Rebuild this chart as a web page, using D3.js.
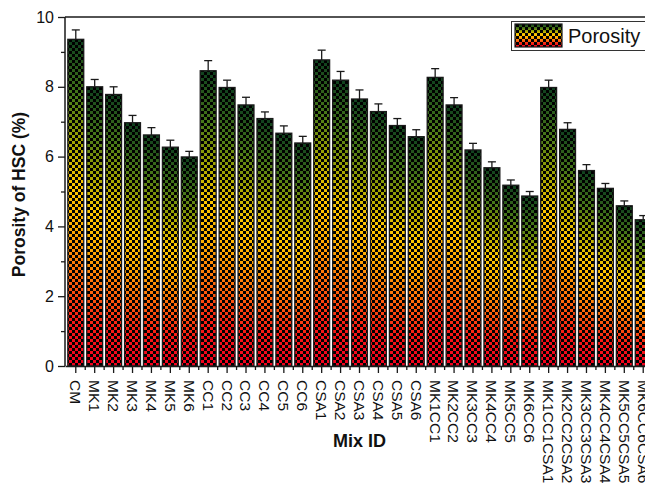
<!DOCTYPE html>
<html>
<head>
<meta charset="utf-8">
<script src="https://cdn.jsdelivr.net/npm/d3@7"></script>
<style>
  html, body { margin: 0; padding: 0; background: #fff; }
  svg { display: block; font-family: "Liberation Sans", Arial, sans-serif; }
</style>
</head>
<body>
<svg id="chart" width="645" height="492"></svg>
<script>
// Mix designs
const categories = [
  "CM",
  "MK1", "MK2", "MK3", "MK4", "MK5", "MK6",
  "CC1", "CC2", "CC3", "CC4", "CC5", "CC6",
  "CSA1", "CSA2", "CSA3", "CSA4", "CSA5", "CSA6",
  "MK1CC1", "MK2CC2", "MK3CC3", "MK4CC4", "MK5CC5", "MK6CC6",
  "MK1CC1CSA1", "MK2CC2CSA2", "MK3CC3CSA3", "MK4CC4CSA4", "MK5CC5CSA5", "MK6CC6CSA6"
];
// Porosity (%) per mix
const porosity = [
  9.36,
  8.0, 7.78, 6.97, 6.62, 6.27, 5.99,
  8.46, 7.98, 7.48, 7.09, 6.67, 6.39,
  8.77, 8.19, 7.65, 7.29, 6.89, 6.57,
  8.27, 7.48, 6.19, 5.68, 5.18, 4.87,
  7.98, 6.78, 5.6, 5.09, 4.59, 4.19
];
// Standard deviation (%) per mix
const errors = [
  0.27,
  0.21, 0.22, 0.21, 0.21, 0.2, 0.16,
  0.29, 0.21, 0.22, 0.19, 0.21, 0.19,
  0.28, 0.25, 0.26, 0.22, 0.2, 0.2,
  0.25, 0.21, 0.19, 0.17, 0.15, 0.13,
  0.21, 0.19, 0.17, 0.14, 0.14, 0.12
];
const yTicks = [0, 2, 4, 6, 8, 10];
const yMinorTicks = [1, 3, 5, 7, 9];
const legendLabel = "Porosity";

const svg = d3.select("#chart");
const plotLeft = 65, plotRight = 654, plotTop = 17, plotBottom = 366;

const x = d3.scaleBand().domain(categories).range([plotLeft, plotRight])
  .paddingInner(0.16).paddingOuter(0.15);
const y = d3.scaleLinear().domain([0, 10]).range([plotBottom, plotTop]);

const defs = svg.append("defs");

// vertical colour ramp inside each bar: red at the base to dark green at the top
const grad = defs.append("linearGradient").attr("id", "ramp")
  .attr("x1", 0).attr("y1", 1).attr("x2", 0).attr("y2", 0);
[
  [0.00, "#f0001e"], [0.14, "#f81a14"], [0.28, "#ff6a0a"], [0.42, "#ffae00"],
  [0.55, "#ffc800"], [0.68, "#a8a800"], [0.82, "#4a7a18"], [1.00, "#0e3f1e"]
].forEach(([o, c]) => grad.append("stop").attr("offset", o).attr("stop-color", c));

// checkerboard overlay
const cell = 3;
const checker = defs.append("pattern").attr("id", "checker")
  .attr("patternUnits", "userSpaceOnUse")
  .attr("width", cell * 2).attr("height", cell * 2);
checker.append("rect").attr("x", 0).attr("y", 0).attr("width", cell).attr("height", cell).attr("fill", "#000");
checker.append("rect").attr("x", cell).attr("y", cell).attr("width", cell).attr("height", cell).attr("fill", "#000");

// bars
const bars = svg.append("g");
bars.selectAll("rect.fill").data(categories).join("rect")
  .attr("class", "fill")
  .attr("x", d => x(d)).attr("width", x.bandwidth())
  .attr("y", (d, i) => y(porosity[i])).attr("height", (d, i) => y(0) - y(porosity[i]))
  .attr("fill", "url(#ramp)");
bars.selectAll("rect.check").data(categories).join("rect")
  .attr("class", "check")
  .attr("x", d => x(d)).attr("width", x.bandwidth())
  .attr("y", (d, i) => y(porosity[i])).attr("height", (d, i) => y(0) - y(porosity[i]))
  .attr("fill", "url(#checker)")
  .attr("stroke", "#1a1a1a").attr("stroke-width", 1.3);

// error bars (upper whisker)
const eb = svg.append("g").attr("stroke", "#1a1a1a").attr("stroke-width", 1.3);
categories.forEach((c, i) => {
  const cx = x(c) + x.bandwidth() / 2;
  eb.append("line").attr("x1", cx).attr("x2", cx)
    .attr("y1", y(porosity[i])).attr("y2", y(porosity[i] + errors[i]));
  eb.append("line").attr("x1", cx - 4).attr("x2", cx + 4)
    .attr("y1", y(porosity[i] + errors[i])).attr("y2", y(porosity[i] + errors[i]));
});

// frame: top and right borders
svg.append("line").attr("x1", plotLeft).attr("x2", plotRight).attr("y1", plotTop).attr("y2", plotTop)
  .attr("stroke", "#1a1a1a").attr("stroke-width", 1.5);
svg.append("line").attr("x1", plotRight).attr("x2", plotRight).attr("y1", plotTop).attr("y2", plotBottom)
  .attr("stroke", "#1a1a1a").attr("stroke-width", 1.5);

// y axis
const yAxis = svg.append("g").attr("transform", `translate(${plotLeft},0)`)
  .call(d3.axisLeft(y).tickValues(yTicks).tickSize(7).tickPadding(4).tickFormat(d3.format("d")));
yAxis.select(".domain").attr("stroke", "#1a1a1a").attr("stroke-width", 1.5)
  .attr("d", `M0,${plotBottom}V${plotTop}`);
yAxis.selectAll(".tick line").attr("stroke", "#1a1a1a").attr("stroke-width", 1.3);
yAxis.selectAll(".tick text").attr("font-size", 16).attr("fill", "#111")
  .attr("font-family", "Liberation Sans, Arial, sans-serif");
svg.append("g").attr("transform", `translate(${plotLeft},0)`)
  .call(d3.axisLeft(y).tickValues(yMinorTicks).tickSize(4).tickFormat(""))
  .call(g => g.select(".domain").remove())
  .selectAll(".tick line").attr("stroke", "#1a1a1a").attr("stroke-width", 1.3);

// x axis
const xAxis = svg.append("g").attr("transform", `translate(0,${plotBottom})`)
  .call(d3.axisBottom(x).tickSize(7).tickPadding(0).tickSizeOuter(0));
xAxis.select(".domain").attr("stroke", "#1a1a1a").attr("stroke-width", 1.5);
xAxis.selectAll(".tick line").attr("stroke", "#1a1a1a").attr("stroke-width", 1.3);
xAxis.selectAll(".tick text")
  .attr("font-size", 15.5).attr("fill", "#111")
  .attr("font-family", "Liberation Sans, Arial, sans-serif")
  .attr("text-anchor", "start")
  .attr("transform", "translate(0,14) rotate(90)")
  .attr("x", 0).attr("y", 0).attr("dy", "0.36em");
// minor ticks between categories
const minorX = categories.slice(1).map(c => x(c) - x.step() * x.paddingInner() / 2);
svg.append("g").selectAll("line").data(minorX).join("line")
  .attr("x1", d => d).attr("x2", d => d).attr("y1", plotBottom).attr("y2", plotBottom + 4)
  .attr("stroke", "#1a1a1a").attr("stroke-width", 1.3);

// axis titles
svg.append("text").attr("transform", `translate(25,${(plotTop + plotBottom) / 2 + 3}) rotate(-90)`)
  .attr("text-anchor", "middle").attr("font-weight", "bold").attr("font-size", 17.5)
  .attr("fill", "#111").text("Porosity of HSC (%)");
svg.append("text").attr("x", (plotLeft + plotRight) / 2).attr("y", 447)
  .attr("text-anchor", "middle").attr("font-weight", "bold").attr("font-size", 18)
  .attr("fill", "#111").text("Mix ID");

// legend
const lg = svg.append("g");
lg.append("rect").attr("x", 511.5).attr("y", 21.5).attr("width", 150).attr("height", 29)
  .attr("fill", "#fff").attr("stroke", "#333").attr("stroke-width", 1);
lg.append("rect").attr("x", 515).attr("y", 24).attr("width", 47).attr("height", 23)
  .attr("fill", "url(#ramp)");
lg.append("rect").attr("x", 515).attr("y", 24).attr("width", 47).attr("height", 23)
  .attr("fill", "url(#checker)").attr("stroke", "#1a1a1a").attr("stroke-width", 1.2);
lg.append("text").attr("x", 568).attr("y", 43).attr("font-size", 20)
  .attr("fill", "#111").text(legendLabel);
</script>
</body>
</html>
